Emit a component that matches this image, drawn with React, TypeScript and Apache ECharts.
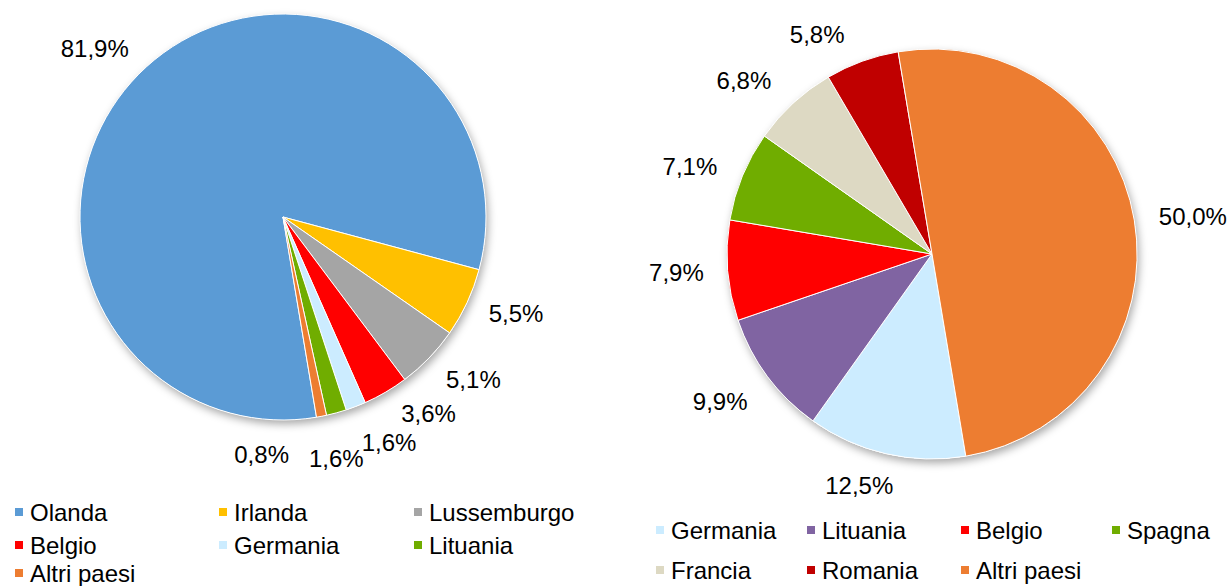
import React, { useEffect, useRef } from 'react';
import * as echarts from 'echarts';

const leftNames = ['Olanda', 'Irlanda', 'Lussemburgo', 'Belgio', 'Germania', 'Lituania', 'Altri paesi'];
const leftValues = [81.9, 5.5, 5.1, 3.6, 1.6, 1.6, 0.8];
const leftColors = ['#5B9BD5', '#FFC000', '#A5A5A5', '#FF0000', '#CCECFF', '#70AD00', '#ED7D31'];
const leftLabelOffsets = [[4, 0], [-6, 0], [-6, 4], [-2, 0], [-8, 13], [-39, 22], [-97, 14]];

const rightNames = ['Germania', 'Lituania', 'Belgio', 'Spagna', 'Francia', 'Romania', 'Altri paesi'];
const rightValues = [12.5, 9.9, 7.9, 7.1, 6.8, 5.8, 50.0];
const rightColors = ['#CCECFF', '#8064A2', '#FF0000', '#70AD00', '#DDD9C3', '#C00000', '#ED7D31'];
const rightLabelOffsets = [[18, 7], [5, 10], [6, 0], [3, 0], [0, -4], [-4, -3], [-5, 0]];

const FONT = '"Liberation Sans", Arial, sans-serif';

const fmt = (p: any) => Number(p.value).toFixed(1).replace('.', ',') + '%';

function pieSeries(names: string[], values: number[], colors: string[], offsets: number[][], center: number[], radius: number) {
  return [
    {
      type: 'pie',
      center,
      radius,
      silent: true,
      z: 1,
      label: { show: false },
      labelLine: { show: false },
      data: [{ value: 1, name: '__bg', itemStyle: { color: '#fff', shadowBlur: 8, shadowColor: 'rgba(0,0,0,0.35)', shadowOffsetX: 2, shadowOffsetY: 4 } }],
    },
    {
      type: 'pie',
      center,
      radius,
      z: 2,
      startAngle: 279.5,
      clockwise: true,
      avoidLabelOverlap: false,
      labelLayout: { hideOverlap: false },
      label: {
        show: true,
        position: 'outside',
        formatter: fmt,
        fontSize: 24,
        color: '#000',
        fontFamily: FONT,
      },
      labelLine: { show: false, length: 25, length2: 0 },
      itemStyle: { borderColor: '#fff', borderWidth: 1 },
      emphasis: { disabled: true },
      data: names.map((n, i) => ({
        name: n,
        value: values[i],
        itemStyle: { color: colors[i] },
        label: { offset: offsets[i] },
      })),
    },
  ];
}

function legends(names: string[], colors: string[], colsX: number[], rowsY: number[], perRow: number) {
  return names.map((n, i) => ({
    data: [{ name: n, itemStyle: { color: colors[i] } }],
    left: colsX[i % perRow],
    top: rowsY[Math.floor(i / perRow)],
    padding: 0,
    icon: 'rect',
    itemWidth: 10,
    itemHeight: 10,
    selectedMode: false,
    textStyle: { fontSize: 24, color: '#000', fontFamily: FONT, lineHeight: 24, padding: [0, 0, 0, 1] },
  }));
}

export default function App() {
  const ref = useRef<HTMLDivElement>(null);
  useEffect(() => {
    document.body.style.margin = '0';
    const chart = echarts.init(ref.current!, null, { renderer: 'svg' });
    chart.setOption({
      animation: false,
      backgroundColor: '#fff',
      tooltip: { show: false },
      legend: [
        ...legends(leftNames, leftColors, [13, 217, 412], [500, 533, 561], 3),
        ...legends(rightNames, rightColors, [654, 805, 959, 1110], [518, 558], 4),
      ],
      series: [
        ...pieSeries(leftNames, leftValues, leftColors, leftLabelOffsets, [283, 217], 203),
        ...pieSeries(rightNames, rightValues, rightColors, rightLabelOffsets, [932, 254], 205),
      ],
    });
    return () => chart.dispose();
  }, []);
  return <div ref={ref} style={{ width: 1228, height: 586 }} />;
}
